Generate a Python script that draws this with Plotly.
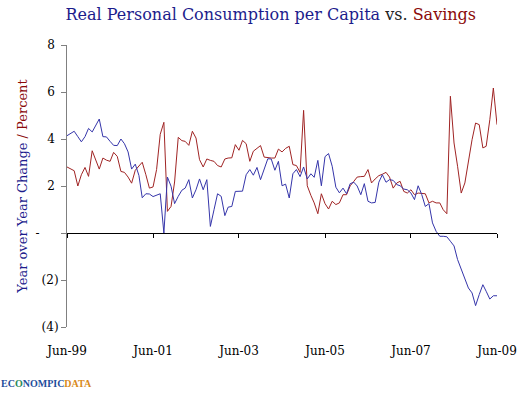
import pandas as pd
import plotly.graph_objects as go

months = pd.date_range("1999-06-01", periods=121, freq="MS")

consumption = [
    4.14, 4.25, 4.33, 4.10, 3.88, 4.10, 4.45, 4.30, 4.60, 4.85,
    4.10, 4.09, 3.90, 3.73, 3.72, 4.00, 3.80, 3.45, 2.72, 2.93,
    2.45, 1.50, 1.67, 1.66, 1.55, 1.62, 1.67, 0.00, 2.38, 1.99,
    1.25, 1.56, 1.82, 1.91, 2.27, 1.49, 1.84, 2.30, 1.84, 2.27,
    0.28, 0.99, 1.67, 1.56, 0.74, 1.10, 1.13, 1.77, 1.77, 1.78,
    2.48, 2.70, 2.46, 2.79, 2.27, 2.75, 3.16, 3.15, 2.67, 3.05,
    2.01, 2.08, 1.49, 2.52, 2.70, 2.40, 2.81, 2.30, 2.52, 2.37,
    3.09, 2.01, 3.25, 3.38, 2.84, 1.95, 1.71, 1.91, 1.67, 2.10,
    2.16, 2.00, 1.63, 2.10, 1.35, 1.28, 1.30, 2.16, 2.48, 2.16,
    2.27, 2.24, 2.06, 2.01, 1.87, 1.84, 1.70, 1.42, 2.01, 1.63,
    1.13, 1.25, 0.43, 0.07, -0.14, -0.14, -0.16, -0.35, -0.55, -1.13,
    -1.56, -1.99, -2.34, -2.55, -3.09, -2.62, -2.20, -2.48, -2.81, -2.67,
    -2.67,
]

savings = [
    2.81, 2.72, 2.65, 2.00, 2.48, 2.79, 2.41, 3.50, 3.12, 2.72,
    3.19, 3.10, 3.05, 3.43, 3.26, 2.62, 2.58, 2.38, 2.12, 2.67,
    2.85, 3.01, 2.48, 1.91, 1.96, 2.70, 4.20, 4.71, 0.92, 1.13,
    2.17, 4.07, 3.93, 3.90, 3.73, 4.33, 4.04, 3.12, 2.81, 3.15,
    3.09, 3.05, 2.87, 2.81, 3.15, 3.19, 3.20, 3.76, 3.52, 3.94,
    3.80, 3.05, 3.48, 3.60, 3.72, 3.23, 3.20, 3.19, 3.19, 3.57,
    3.45, 3.60, 3.69, 2.91, 2.87, 2.58, 5.22, 2.01, 1.60, 1.28,
    0.82, 1.67, 1.25, 1.02, 1.35, 1.21, 1.28, 1.63, 1.63, 2.01,
    2.20, 2.38, 2.40, 2.41, 2.70, 2.13, 2.30, 2.44, 2.50, 2.58,
    2.38, 1.91, 2.13, 2.20, 1.77, 1.70, 1.84, 1.63, 1.70, 1.68,
    1.67, 1.28, 1.35, 1.28, 1.28, 0.99, 0.82, 5.82, 3.83, 2.84,
    1.70, 2.13, 3.12, 3.97, 4.68, 4.61, 3.62, 3.69, 4.82, 6.17,
    4.61,
]

x_tickvals = ["1999-06-01", "2001-06-01", "2003-06-01", "2005-06-01", "2007-06-01", "2009-06-01"]
x_ticktext = ["Jun-99", "Jun-01", "Jun-03", "Jun-05", "Jun-07", "Jun-09"]
y_tickvals = [-4, -2, 0, 2, 4, 6, 8]
y_ticktext = ["(4)", "(2)", "-\u00a0\u00a0\u00a0\u00a0\u00a0", "2\u00a0", "4\u00a0", "6\u00a0", "8\u00a0"]

BLUE_LINE = "#3535aa"
RED_LINE = "#a02424"
BLUE_TXT = "#1c1c8c"
RED_TXT = "#8b0a0a"
FONT = "DejaVu Serif"

fig = go.Figure()
fig.add_trace(go.Scatter(x=months, y=savings, mode="lines",
                         line=dict(color=RED_LINE, width=1), name="Savings"))
fig.add_trace(go.Scatter(x=months, y=consumption, mode="lines",
                         line=dict(color=BLUE_LINE, width=1), name="Consumption"))
# invisible trace to carry the zero-line axis
fig.add_trace(go.Scatter(x=months, y=[0] * len(months), xaxis="x2", mode="lines",
                         line=dict(color="rgba(0,0,0,0)", width=0), hoverinfo="skip",
                         showlegend=False))

fig.update_layout(
    width=528, height=399,
    margin=dict(l=67, r=31, t=45, b=72, autoexpand=False),
    paper_bgcolor="white", plot_bgcolor="white",
    showlegend=False,
    font=dict(family=FONT, size=12, color="black"),
    title=dict(
        text=(f'<span style="color:{BLUE_TXT}">Real Personal Consumption per Capita</span>'
              f' <span style="color:#222">vs.</span> '
              f'<span style="color:{RED_TXT}">Savings</span>'),
        x=0.474, xanchor="center", xref="paper",
        y=0.965, yanchor="middle",
        font=dict(family=FONT, size=16),
        automargin=False,
    ),
    xaxis=dict(
        type="date", automargin=False,
        range=["1999-06-01", "2009-06-01"],
        tickvals=x_tickvals, ticktext=x_ticktext,
        showline=False, showgrid=False, zeroline=False,
        ticks="outside", ticklen=13, tickcolor="rgba(0,0,0,0)",
        tickfont=dict(family=FONT, size=12),
    ),
    xaxis2=dict(
        type="date", automargin=False,
        overlaying="x", matches="x", anchor="free", position=1/3,
        side="bottom",
        tickvals=x_tickvals, showticklabels=False,
        showline=True, linecolor="black", linewidth=1,
        showgrid=False, zeroline=False,
        ticks="outside", ticklen=4, tickcolor="black", tickwidth=1,
    ),
    yaxis=dict(
        range=[-4, 8], automargin=False,
        tickvals=y_tickvals, ticktext=y_ticktext,
        showline=True, linecolor="#808080", linewidth=1,
        ticks="outside", ticklen=5, tickcolor="#808080",
        showgrid=False, zeroline=False,
        tickfont=dict(family=FONT, size=12),
        title=dict(
            text=(f'<span style="color:{BLUE_TXT}">Year over Year Change</span>'
                  f' <span style="color:{RED_TXT}">/ Percent</span>'),
            font=dict(family=FONT, size=13),
            standoff=4,
        ),
    ),
)

fig.add_annotation(
    xref="paper", yref="paper", x=-0.157, y=-0.2, xanchor="left", yanchor="middle",
    showarrow=False,
    text=('<b><span style="color:#1f4e9c">EC</span><span style="color:#2a8a5a">O</span>'
          '<span style="color:#1f4e9c">NOMPIC</span><span style="color:#d98a1a">DATA</span></b>'),
    font=dict(family="Liberation Serif", size=10),
)

fig.write_html("out.html", config={"displayModeBar": False},
               post_script="document.body.style.margin='0px';")
